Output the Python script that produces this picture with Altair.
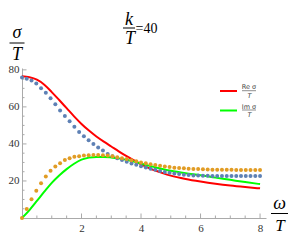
import altair as alt
import pandas as pd

# ---- curves (solid lines) ----
line_x = [0, 0.25, 0.5, 0.75, 1.0, 1.25, 1.5, 1.75, 2.0, 2.25, 2.5, 2.75, 3.0, 3.25, 3.5, 3.75,
          4.0, 4.25, 4.5, 4.75, 5.0, 5.5, 6.0, 6.5, 7.0, 7.5, 8.0]
re_sigma = [76.5, 76.0, 74.7, 72.0, 68.0, 63.7, 59.3, 54.9, 50.8, 47.2, 44.0, 41.2, 38.6, 36.0, 33.5, 31.2,
            29.0, 27.1, 25.5, 24.1, 22.9, 21.1, 19.7, 18.5, 17.5, 16.7, 16.0]
im_sigma = [0.0, 4.3, 9.2, 14.2, 19.0, 23.0, 26.4, 29.3, 31.5, 32.6, 33.0, 33.0, 32.7, 32.2, 31.5, 30.5,
            29.4, 28.3, 27.3, 26.3, 25.5, 24.2, 23.1, 21.8, 20.6, 19.4, 18.3]

# ---- dotted data ----
dot_x = [0.0, 0.16, 0.32, 0.48, 0.64, 0.8, 0.96, 1.12, 1.28, 1.44, 1.6, 1.76, 1.92, 2.08, 2.24, 2.4, 2.56,
         2.72, 2.88, 3.04, 3.2, 3.36, 3.52, 3.68, 3.84, 4.0, 4.16, 4.32, 4.48, 4.64, 4.8, 4.96, 5.12,
         5.28, 5.44, 5.6, 5.76, 5.92, 6.08, 6.24, 6.4, 6.56, 6.72, 6.88, 7.04, 7.2, 7.36, 7.52, 7.68,
         7.84, 8.0]
re_dots = [75.9, 75.2, 74.2, 72.6, 70.1, 67.7, 64.6, 61.4, 58.1, 55.1, 52.3, 49.3, 46.5, 44.1, 42.0, 39.9,
           38.1, 36.5, 34.6, 33.4, 32.2, 31.3, 30.4, 29.4, 28.7, 28.0, 27.3, 26.6, 26.0, 25.4, 24.9, 24.4,
           24.0, 23.7, 23.4, 23.2, 23.0, 22.9, 22.8, 22.8, 22.7, 22.7, 22.7, 22.7, 22.7, 22.7, 22.7, 22.7,
           22.7, 22.7, 22.7]
im_dots = [0.0, 4.9, 10.1, 14.7, 18.7, 22.4, 25.5, 27.8, 29.6, 31.3, 32.2, 33.1, 33.4, 33.8, 33.9, 34.0,
           34.0, 33.9, 33.7, 33.3, 32.8, 32.3, 31.8, 31.2, 30.6, 30.0, 29.5, 29.0, 28.6, 28.2, 27.8, 27.5,
           27.2, 27.0, 26.8, 26.6, 26.5, 26.4, 26.3, 26.2, 26.1, 26.1, 26.0, 26.0, 26.0, 25.9, 25.9, 25.9,
           25.9, 25.9, 25.9]

# ---- axis ticks ----
x_labels = [2, 4, 6, 8]
y_labels = [20, 40, 60, 80]
x_major = [2, 4, 6, 8]
x_minor = [0.5, 1, 1.5, 2.5, 3, 3.5, 4.5, 5, 5.5, 6.5, 7, 7.5]
y_major = [20, 40, 60, 80]
y_minor = [5, 10, 15, 25, 30, 35, 45, 50, 55, 65, 70, 75]

XDOM = [0, 8.2]
YDOM = [0, 81]
W, H = 244, 150

lines_df = pd.DataFrame({"x": line_x, "re": re_sigma, "im": im_sigma})
dots_df = pd.DataFrame({"x": dot_x, "re": re_dots, "im": im_dots})

serif = "Liberation Serif"
axis_col = "#aaaaaa"

xs = alt.Scale(domain=XDOM, nice=False, zero=False)
ys = alt.Scale(domain=YDOM, nice=False, zero=False)

AX = alt.Axis(values=x_labels, labelPadding=4, ticks=False, grid=False, title=None, labelFont=serif,
              labelFontSize=11, labelColor="#333333", domainColor=axis_col, domainWidth=1, format="d")
AY = alt.Axis(values=y_labels, labelPadding=3, ticks=False, grid=False, title=None, labelFont=serif,
              labelFontSize=11, labelColor="#333333", domainColor=axis_col, domainWidth=1, format="d")

def X(f):
    return alt.X(f, scale=xs, axis=AX)

def Y(f):
    return alt.Y(f, scale=ys, axis=AY)

red_line = alt.Chart(lines_df).mark_line(color="#ff0000", strokeWidth=2, interpolate="monotone").encode(
    x=X("x:Q"), y=Y("re:Q"))
green_line = alt.Chart(lines_df).mark_line(color="#00ff00", strokeWidth=2, interpolate="monotone").encode(
    x=X("x:Q"), y=Y("im:Q"))
blue_dots = alt.Chart(dots_df).mark_circle(color="#5e81b5", size=16, opacity=1).encode(
    x=X("x:Q"), y=Y("re:Q"))
orange_dots = alt.Chart(dots_df).mark_circle(color="#e19c24", size=16, opacity=1).encode(
    x=X("x:Q"), y=Y("im:Q"))

def xticks(vals, length):
    return alt.Chart(pd.DataFrame({"v": vals})).mark_rule(color=axis_col, strokeWidth=1).encode(
        x=X("v:Q"), y=alt.value(H), y2=alt.value(H - length))

def yticks(vals, length):
    return alt.Chart(pd.DataFrame({"v": vals})).mark_rule(color=axis_col, strokeWidth=1).encode(
        y=Y("v:Q"), x=alt.value(0), x2=alt.value(length))

ticks = [xticks(x_major, 4.5), xticks(x_minor, 2.5), yticks(y_major, 4.5), yticks(y_minor, 2.5)]

# ---- annotations (fractions) ----
one = pd.DataFrame({"a": [0]})

def txt(s, x, y, size, italic=True, font=serif, align="center", baseline="alphabetic", color="black"):
    return alt.Chart(one).mark_text(text=s, font=font, fontSize=size, fontStyle="italic" if italic else "normal",
                                    align=align, baseline=baseline, color=color).encode(
        x=alt.value(x), y=alt.value(y))

def bar(x1, x2, y, color="black", w=1):
    return alt.Chart(one).mark_rule(color=color, strokeWidth=w).encode(
        x=alt.value(x1), x2=alt.value(x2), y=alt.value(y))

annots = [
    # title k/T = 40
    txt("k", 107, -43, 18), bar(101, 113, -40), txt("T", 108, -24, 18),
    txt("=40", 113.5, -39.5, 14, italic=False, align="left", baseline="middle"),
    # y label sigma/T
    txt("σ", -5, -30, 18), bar(-12.5, 2.5, -25), txt("T", -5, -8.5, 18),
    # x label omega/T
    txt("ω", 257.5, 141, 18), bar(249, 266, 145.5), txt("T", 258, 162.5, 17),
    # legend
    bar(198, 215, 23, color="#ff0000", w=2),
    txt("Re σ", 227, 19.3, 6.5, italic=False, font="DejaVu Sans", baseline="middle", color="#444444"),
    bar(220, 234, 22.7, color="#444444", w=0.6),
    txt("T", 227.5, 27.5, 6.5, italic=True, font="DejaVu Sans", baseline="middle", color="#444444"),
    bar(198, 215, 42.5, color="#00ff00", w=2),
    txt("Im σ", 227, 38.6, 6.5, italic=False, font="DejaVu Sans", baseline="middle", color="#444444"),
    bar(220, 234, 42, color="#444444", w=0.6),
    txt("T", 227.5, 47, 6.5, italic=True, font="DejaVu Sans", baseline="middle", color="#444444"),
]

chart = alt.layer(red_line, green_line, *ticks, blue_dots, orange_dots, *annots).properties(
    width=W, height=H,
    padding={"left": 14, "top": 60, "right": 27, "bottom": 18},
    autosize=alt.AutoSizeParams(type="none"),
).configure_view(stroke=None)

chart.save("out.html", embed_options={"renderer": "svg", "actions": False})
